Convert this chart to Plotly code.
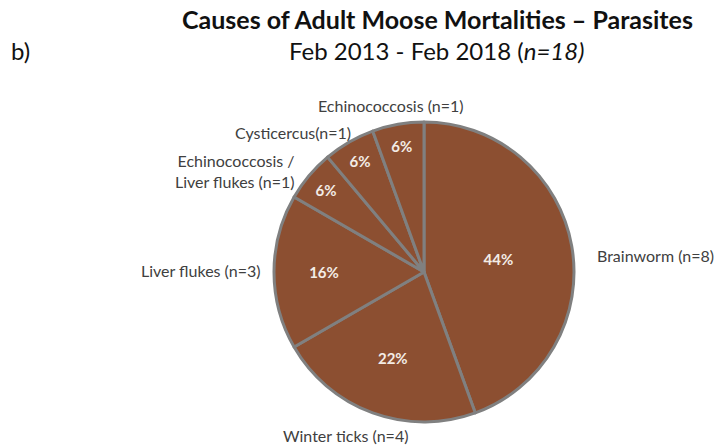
import plotly.graph_objects as go

categories = ["Brainworm (n=8)", "Winter ticks (n=4)", "Liver flukes (n=3)",
              "Echinococcosis /<br>Liver flukes (n=1)", "Cysticercus(n=1)", "Echinococcosis (n=1)"]
counts = [8, 4, 3, 1, 1, 1]
pct_labels = ["44%", "22%", "16%", "6%", "6%", "6%"]

W, H = 718, 448
cx, cy, r = 424, 272, 150

fig = go.Figure()
fig.add_trace(go.Pie(
    labels=categories, values=counts, sort=False, direction="clockwise", rotation=0,
    marker=dict(colors=["#8c4f31"] * len(counts), line=dict(color="#808080", width=3)),
    text=pct_labels, texttemplate="<b>%{text}</b>", textposition="inside",
    insidetextorientation="horizontal",
    insidetextfont=dict(family="Lato", size=15, color="#f3ece6"),
    showlegend=False, hoverinfo="label+value+percent",
    domain=dict(x=[(cx - r) / W, (cx + r) / W], y=[1 - (cy + r) / H, 1 - (cy - r) / H]),
))

font_lbl = dict(family="Lato", size=16, color="#404040")
label_pos = [
    (595, 255, "left"),
    (345, 435, "center"),
    (263, 270, "right"),
    (297, 171, "right"),
    (353, 132, "right"),
    (391, 105, "center"),
]
for name, (x, y, xa) in zip(categories, label_pos):
    fig.add_annotation(x=x / W, y=1 - y / H, xref="paper", yref="paper", text=name,
                       showarrow=False, xanchor=xa, yanchor="middle", align=xa, font=font_lbl)

fig.add_annotation(x=437 / W, y=1 - 19 / H, xref="paper", yref="paper",
                   text="<b>Causes of Adult Moose Mortalities – Parasites</b>", showarrow=False,
                   xanchor="center", yanchor="middle", font=dict(family="Lato", size=25, color="#111111"))
fig.add_annotation(x=436 / W, y=1 - 51 / H, xref="paper", yref="paper",
                   text="Feb 2013 - Feb 2018 (<i>n=18)</i>", showarrow=False,
                   xanchor="center", yanchor="middle", font=dict(family="Lato", size=24, color="#111111"))
fig.add_annotation(x=9 / W, y=1 - 51 / H, xref="paper", yref="paper", text="b)",
                   showarrow=False, xanchor="left", yanchor="middle",
                   font=dict(family="Lato", size=24, color="#111111"))

fig.update_layout(width=W, height=H, margin=dict(l=0, r=0, t=0, b=0),
                  paper_bgcolor="white", plot_bgcolor="white")
fig.write_html("out.html", config={"displayModeBar": False},
               post_script="document.body.style.margin='0';")
